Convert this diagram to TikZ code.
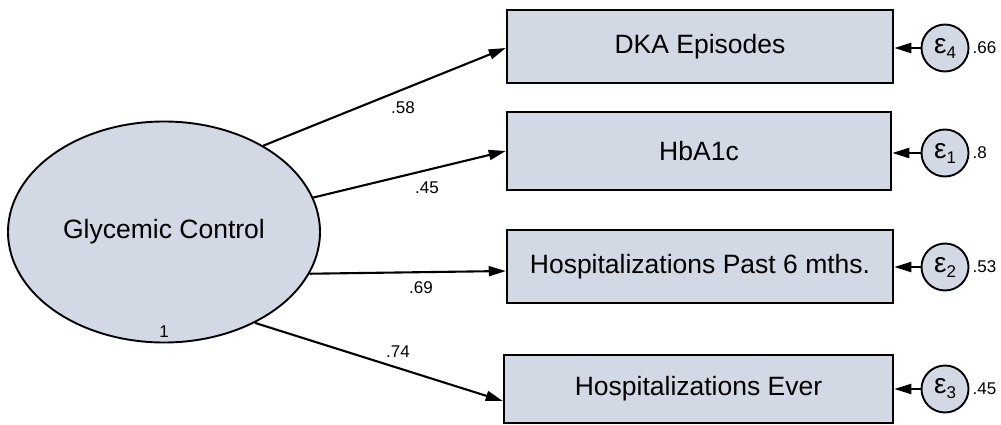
\documentclass[tikz,border=0pt]{standalone}
\usepackage{fontspec}
\setmainfont{Liberation Sans}
\usetikzlibrary{shapes.geometric,arrows.meta}
\definecolor{semfill}{RGB}{210,216,228}
\tikzset{
  latent/.style={ellipse, draw, line width=1.9pt, fill=semfill, inner sep=0pt,
    minimum width=312pt, minimum height=221pt, font=\fontsize{26.5}{30}\selectfont},
  observed/.style={rectangle, draw, line width=2.5pt, fill=semfill, inner sep=0pt,
    font=\fontsize{26.5}{30}\selectfont},
  errnode/.style={circle, draw, line width=1.9pt, fill=semfill, inner sep=0pt,
    minimum size=47pt},
  coef/.style={inner sep=0pt, font=\fontsize{17}{19}\selectfont},
  path/.style={line width=2.1pt, -{Triangle[length=17pt,width=10pt]}},
}
\newcommand{\errlabel}[1]{{\fontsize{28}{28}\selectfont ε}\raisebox{-5pt}{\fontsize{17}{17}\selectfont #1}}
\begin{document}
\begin{tikzpicture}[x=1pt,y=-1pt]
  \useasboundingbox (0,0) rectangle (1001,425);

  % latent variable
  \node[latent] (gc) at (164,232) {Glycemic Control};
  \node[coef] (var) at (164,332) {1};

  % observed indicators
  \node[observed, minimum width=386pt, minimum height=73pt] (dka) at (700,46.5) {DKA Episodes};
  \node[observed, minimum width=384pt, minimum height=78pt] (hba) at (699,151) {HbA1c};
  \node[observed, minimum width=386pt, minimum height=73pt] (h6m) at (700,266.5) {Hospitalizations Past 6 mths.};
  \node[observed, minimum width=389pt, minimum height=68pt] (hev) at (698.5,389) {Hospitalizations Ever};

  % error terms
  \node[errnode] (e4) at (945,48) {\errlabel{4}};
  \node[errnode] (e1) at (945,153) {\errlabel{1}};
  \node[errnode] (e2) at (945,267) {\errlabel{2}};
  \node[errnode] (e3) at (945,389) {\errlabel{3}};

  \node[coef, anchor=west] (v4) at ([xshift=3pt]e4.east) {.66};
  \node[coef, anchor=west] (v1) at ([xshift=3pt]e1.east) {.8};
  \node[coef, anchor=west] (v2) at ([xshift=3pt]e2.east) {.53};
  \node[coef, anchor=west] (v3) at ([xshift=3pt]e3.east) {.45};

  % loadings
  \draw[path] (gc.41) -- ([yshift=-1.5pt]dka.west);
  \draw[path] (gc.13) -- (hba.west);
  \draw[path] (gc.-16) -- ([yshift=-4.5pt]h6m.west);
  \draw[path] (gc.-45) -- ([yshift=-12pt]hev.west);

  \node[coef] (l1) at (403,108) {.58};
  \node[coef] (l2) at (427,188) {.45};
  \node[coef] (l3) at (421,288) {.69};
  \node[coef] (l4) at (398,352) {.74};

  % error paths
  \draw[path] (e4.west) -- (dka.east |- e4.west);
  \draw[path] (e1.west) -- (hba.east |- e1.west);
  \draw[path] (e2.west) -- (h6m.east |- e2.west);
  \draw[path] (e3.west) -- (hev.east |- e3.west);
\end{tikzpicture}
\end{document}
